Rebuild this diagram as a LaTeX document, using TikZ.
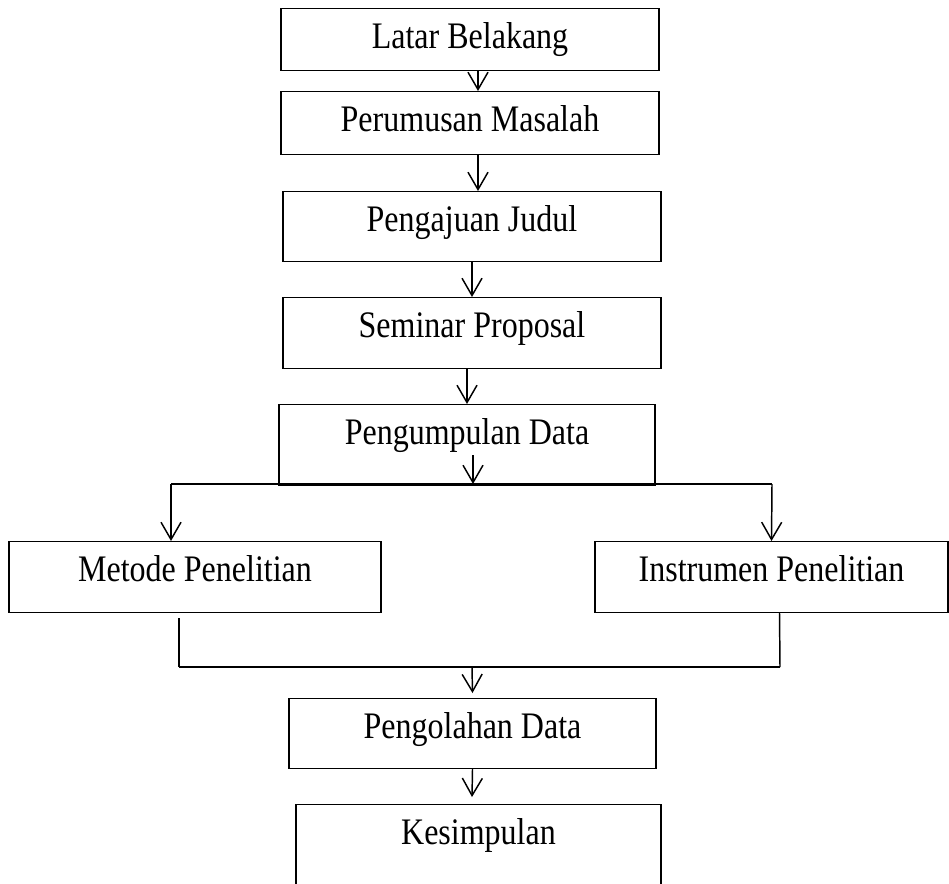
\documentclass[tikz,border=0pt]{standalone}
\usepackage{fontspec}
\setmainfont{Liberation Serif}
\usetikzlibrary{arrows.meta}
\newcommand{\tallword}[1]{\scalebox{1}[1.17]{#1}}
\tikzset{
  stepbox/.style={draw, line width=.9pt, inner sep=0pt, anchor=north, text height=30pt, font=\fontsize{24}{28}\selectfont},
  arr/.style={line width=1.1pt, -{Straight Barb[length=13pt,width=15pt,line width=1.1pt]}},
  bar/.style={line width=1.6pt}
}
\begin{document}
\begin{tikzpicture}[x=0.75pt,y=-0.75pt]
\useasboundingbox (0,0) rectangle (949,883);
\node[stepbox, minimum width=283.5pt, text depth=16.5pt] (b1) at (470,8){\tallword{Latar Belakang}};
\node[stepbox, minimum width=283.5pt, text depth=17.25pt] (b2) at (470,91){\tallword{Perumusan Masalah}};
\node[stepbox, minimum width=283.5pt, text depth=22.5pt] (b3) at (472,191){\tallword{Pengajuan Judul}};
\node[stepbox, minimum width=283.5pt, text depth=23.25pt] (b4) at (472,297){\tallword{Seminar Proposal}};
\node[stepbox, minimum width=282pt, text depth=30.75pt] (b5) at (467,404){\tallword{Pengumpulan Data}};
\node[stepbox, minimum width=279pt, text depth=23.25pt] (b6) at (195,541){\tallword{Metode Penelitian}};
\node[stepbox, minimum width=264.75pt, text depth=23.25pt] (b7) at (771.5,541){\tallword{Instrumen Penelitian}};
\node[stepbox, minimum width=275.25pt, text depth=22.5pt] (b8) at (472.5,698){\tallword{Pengolahan Data}};
\node[stepbox, minimum width=273.75pt, text depth=75pt] (b9) at (478.5,804){\tallword{Kesimpulan}};
% split after Pengumpulan Data
\coordinate (split) at (473,484);
\coordinate (lt) at (171,484);
\coordinate (rt) at (772,484);
% join before Pengolahan Data
\coordinate (jl) at (179,667);
\coordinate (jr) at (780,667);
\coordinate (jm) at (472,667);
\draw[arr] ([xshift=6pt]b1.south) -- ([xshift=6pt]b2.north);
\draw[arr] ([xshift=6pt]b2.south) -- ([xshift=4.5pt]b3.north);
\draw[arr] (b3.south) -- (b4.north);
\draw[arr] ([xshift=-3.75pt]b4.south) -- (b5.north);
\draw[arr] ([xshift=4.5pt,yshift=23.25pt]b5.south) -- (split);
\draw[bar] (lt) -- (rt);
\draw[arr] (lt) -- ([xshift=-18pt]b6.north);
\draw[arr] (rt) -- (b7.north);
\draw[line width=1.1pt] ([xshift=-12pt,yshift=-3.75pt]b6.south) -- (jl);
\draw[line width=1.1pt] ([xshift=6pt]b7.south) -- (jr);
\draw[bar] (jl) -- (jr);
\draw[arr] (jm) -- ([yshift=3.75pt]b8.north);
\draw[arr] (b8.south) -- ([xshift=-4.875pt,yshift=5.25pt]b9.north);
\end{tikzpicture}
\end{document}
